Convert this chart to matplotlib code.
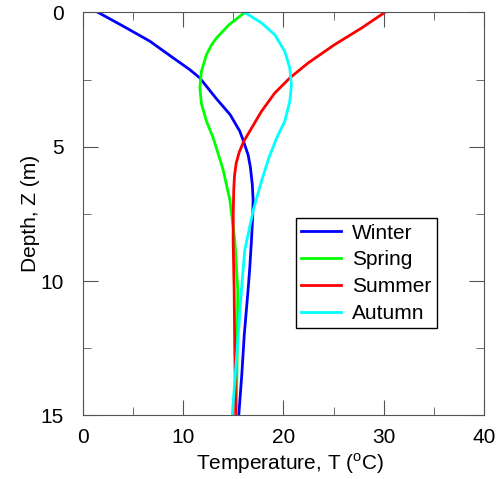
import matplotlib
matplotlib.use('Agg')
import matplotlib.pyplot as plt
from matplotlib.ticker import MultipleLocator

plt.rcParams['font.family'] = ['Liberation Sans', 'DejaVu Sans']
plt.rcParams['mathtext.fontset'] = 'custom'
plt.rcParams['mathtext.rm'] = 'Liberation Sans'

# ---- values (depth in m, temperature in degC) ----
winter_z = [0, 0.51, 1.07, 1.69, 2.13, 2.44, 3.18, 3.81, 4.42, 4.75, 5.3, 5.74, 6.4, 6.98, 7.5, 8.47, 9.5, 10.33, 12, 13.5, 15]
winter_t = [1.53, 4.02, 6.68, 9.0, 10.67, 11.67, 13.25, 14.7, 15.65, 15.98, 16.48, 16.7, 16.9, 16.98, 16.95, 16.82, 16.65, 16.48, 16.1, 15.85, 15.55]

spring_z = [0, 0.45, 0.95, 1.2, 1.57, 2.19, 2.81, 3.4, 4.05, 4.67, 5.42, 5.86, 6.98, 8.47, 10.33, 12.5, 15]
spring_t = [16.15, 14.6, 13.33, 12.85, 12.33, 11.83, 11.67, 11.83, 12.33, 13.0, 13.63, 13.99, 14.66, 15.15, 15.45, 15.4, 15.3]

summer_z = [0, 0.58, 1.2, 1.88, 2.44, 3.0, 3.68, 4.42, 4.8, 5.2, 5.6, 6.1, 6.61, 7.5, 8.47, 10.33, 12.5, 15]
summer_t = [30.1, 27.8, 25.1, 22.47, 20.64, 19.14, 17.82, 16.65, 16.05, 15.6, 15.3, 15.12, 15.05, 15.0, 14.99, 15.09, 15.15, 15.25]

autumn_z = [0, 0.39, 0.83, 1.45, 2.07, 2.69, 3.31, 4.05, 4.7, 5.42, 6.24, 7.36, 8.85, 10.33, 12.5, 15]
autumn_t = [16.15, 17.82, 19.14, 20.14, 20.64, 20.8, 20.64, 20.14, 19.3, 18.55, 17.85, 17.0, 16.15, 15.82, 15.4, 14.9]

fig = plt.figure(figsize=(5.02, 4.79), dpi=100)
ax = fig.add_axes([0.165, 0.133, 0.799, 0.841])

ax.plot(winter_t, winter_z, color='#0000ff', lw=2, label='Winter')
ax.plot(spring_t, spring_z, color='#00ff00', lw=2, label='Spring')
ax.plot(summer_t, summer_z, color='#ff0000', lw=2, label='Summer')
ax.plot(autumn_t, autumn_z, color='#00ffff', lw=2, label='Autumn')

ax.set_xlim(0, 40)
ax.set_ylim(15, 0)
ax.xaxis.set_major_locator(MultipleLocator(10))
ax.xaxis.set_minor_locator(MultipleLocator(5))
ax.yaxis.set_major_locator(MultipleLocator(5))
ax.yaxis.set_minor_locator(MultipleLocator(2.5))
for s in ax.spines.values():
    s.set_color('#555555')
ax.tick_params(which='both', direction='in', top=True, right=True, colors='#555555',
               labelcolor='black', labelsize=15)
ax.tick_params(which='major', length=11)
ax.tick_params(which='minor', length=6)
ax.tick_params(axis='x', which='major', pad=9)
ax.tick_params(axis='y', which='major', pad=14)

ax.set_xlabel(r'Temperature, T ($^{\rm o}$C)', fontsize=15, labelpad=3)
ax.xaxis.label.set_x(0.516)
ax.set_ylabel('Depth, Z (m)', fontsize=15, labelpad=0)

ax.legend(loc='upper left', bbox_to_anchor=(0.531, 0.489), fontsize=15, fancybox=False,
          edgecolor='black', framealpha=1, handlelength=1.9, handletextpad=0.55,
          labelspacing=0.38, borderaxespad=0, borderpad=0.25)

fig.savefig('out.png', dpi=100)
